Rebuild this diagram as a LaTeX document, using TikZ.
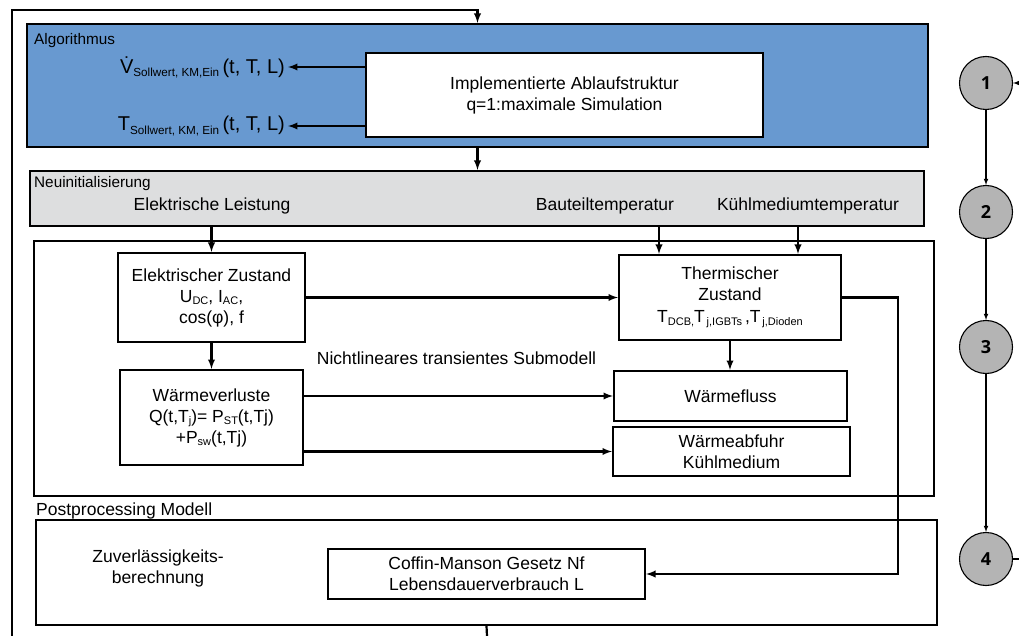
\documentclass[tikz,border=0pt]{standalone}
\usepackage{fontspec}
\setmainfont{Liberation Sans}
\newfontfamily\numfont{Open Sans}
\usepackage{tikz}
\usetikzlibrary{arrows}

\newcommand{\tief}[1]{\raisebox{-0.3ex}{\fontsize{11}{11}\selectfont #1}}

\definecolor{algoblue}{RGB}{104,153,208}
\definecolor{initgray}{RGB}{221,222,223}
\definecolor{stufegray}{RGB}{180,180,180}

\begin{document}
\begin{tikzpicture}[x=1pt, y=-1pt, >=latex,
  font=\fontsize{17.5}{21}\selectfont,
  box/.style={draw, line width=2.2pt, inner sep=0pt, align=center},
  txt/.style={inner sep=0pt, align=center},
  kopf/.style={inner sep=0pt, anchor=base west, font=\fontsize{15.3}{18}\selectfont},
  pfeil/.style={->, line width=2.2pt},
  stufe/.style={circle, draw, line width=1.1pt, fill=stufegray, minimum size=53pt,
    inner sep=0pt, font=\numfont\bfseries\fontsize{18}{18}\selectfont},
  stufepfeil/.style={->, line width=1.1pt}]
  \useasboundingbox (0,0) rectangle (1019,636);

  \node[box, fill=algoblue, minimum width=901pt, minimum height=123pt] (algo) at (477.5,85.5) {};
  \node[kopf] (algolabel) at (34,45) {Algorithmus};
  \node[box, fill=white, minimum width=397pt, minimum height=84pt] (impl) at (564.5,95)
    {Implementierte Ablaufstruktur\\q=1:maximale Simulation};
  \node[txt, anchor=east, inner xsep=3pt, font=\fontsize{20}{24}\selectfont] (vsoll) at (288,67)
    {\.{V}\raisebox{-0.3ex}{\fontsize{11.7}{12}\selectfont Sollwert, KM,Ein}\,(t, T, L)};
  \node[txt, anchor=east, inner xsep=3pt, font=\fontsize{20}{24}\selectfont] (tsoll) at (288,126)
    {T\raisebox{-0.3ex}{\fontsize{11.7}{12}\selectfont Sollwert,\ KM, Ein}\,(t, T, L)};

  \node[box, fill=initgray, minimum width=894pt, minimum height=55pt] (neu) at (477,198.5) {};
  \node[kopf] (neulabel) at (34,188) {Neuinitialisierung};
  \node[txt, anchor=base] (leistung) at (212,211) {Elektrische Leistung};
  \node[txt, anchor=base] (bauteil) at (605,211) {Bauteiltemperatur};
  \node[txt, anchor=base] (kuehl) at (808,211) {Kühlmediumtemperatur};

  \node[box, minimum width=900pt, minimum height=255pt] (sub) at (484,368.5) {};
  \node[txt, anchor=base] (sublabel) at (456.5,364) {Nichtlineares transientes Submodell};
  \node[box, minimum width=187pt, minimum height=89pt] (elek) at (211.5,297.5)
    {Elektrischer Zustand\\U\tief{DC}, I\tief{AC},\\cos(φ), f};
  \node[box, minimum width=183pt, minimum height=95pt] (verl) at (211.5,417.5)
    {Wärmeverluste\\Q(t,T\tief{j})= P\tief{ST}(t,Tj)\\+P\tief{sw}(t,Tj)};
  \node[box, minimum width=222pt, minimum height=85pt] (therm) at (730,297.5)
    {Thermischer\\Zustand\\[1pt]T\tief{DCB,}T\tief{\,j,IGBTs}\,,T\tief{\,j,Dioden}};
  \node[box, minimum width=233pt, minimum height=50pt] (fluss) at (730.5,396) {Wärmefluss};
  \node[box, minimum width=237pt, minimum height=49pt] (abfuhr) at (731.5,451.5)
    {Wärmeabfuhr\\Kühlmedium};

  \node[kopf, font=\fontsize{17.5}{21}\selectfont] (postlabel) at (36,515) {Postprocessing Modell};
  \node[box, minimum width=901pt, minimum height=105pt] (post) at (486.5,572.5) {};
  \node[txt] (zuver) at (158,568) {Zuverlässigkeits-\\berechnung};
  \node[box, minimum width=317pt, minimum height=50pt] (coffin) at (486.5,574)
    {Coffin-Manson Gesetz Nf\\Lebensdauerverbrauch L};

  \coordinate (bt) at (659,0);
  \coordinate (km) at (798,0);
  \coordinate (ecke) at (12,10);
  \coordinate (rueckA) at (487,636);
  \coordinate (rueckB) at (12,636);

  \draw[pfeil] (vsoll.east -| impl.west) -- (vsoll.east);
  \draw[pfeil] (tsoll.east -| impl.west) -- (tsoll.east);
  \draw[pfeil] (algo.south) -- (algo.south |- neu.north);
  \draw[pfeil] (neu.south -| elek) -- (elek.north);
  \draw[pfeil] (neu.south -| bt) -- (therm.north -| bt);
  \draw[pfeil] (neu.south -| km) -- (therm.north -| km);
  \draw[pfeil] (elek.south) -- (verl.north);
  \draw[pfeil] (elek.east) -- (elek.east -| therm.west);
  \draw[pfeil] (therm.south) -- (therm.south |- fluss.north);
  \draw[pfeil] (verl.east |- fluss.west) -- (fluss.west);
  \draw[pfeil] (verl.east |- abfuhr.west) -- (abfuhr.west);
  \draw[pfeil] (therm.east) -- ++(56,0) |- (coffin.east);
  \draw[line width=2.2pt] (post.south) -- (rueckA);
  \draw[pfeil] (rueckB) -- (ecke) -| (algo.north);

  \node[stufe] (s1) at (986,83) {1};
  \node[stufe] (s2) at (986,212) {2};
  \node[stufe] (s3) at (986,347) {3};
  \node[stufe] (s4) at (986,559) {4};
  \coordinate (zu) at (1019,83);
  \coordinate (ab) at (1019,559);
  \draw[stufepfeil] (zu) -- (s1);
  \draw[stufepfeil] (s1) -- (s2);
  \draw[stufepfeil] (s2) -- (s3);
  \draw[stufepfeil] (s3) -- (s4);
  \draw[line width=1.1pt] (s4) -- (ab);
\end{tikzpicture}
\end{document}
